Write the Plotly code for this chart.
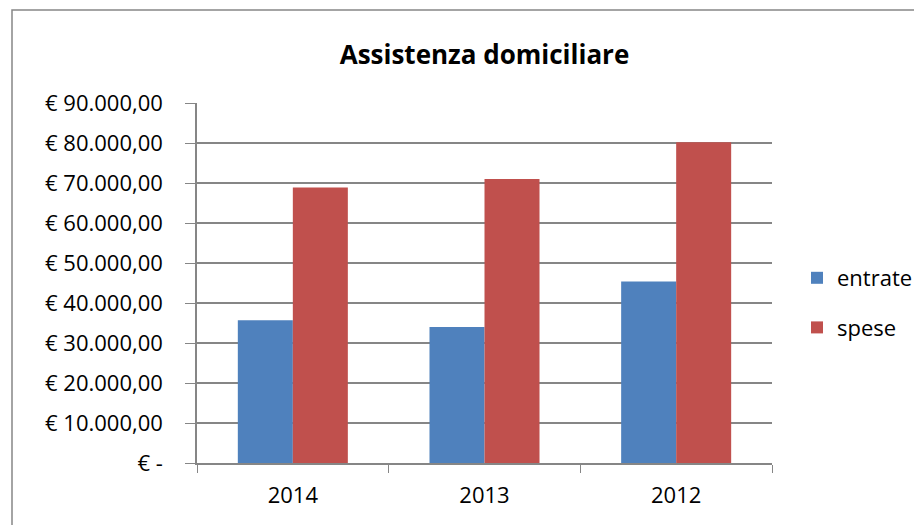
import plotly.graph_objects as go

categories = ["2014", "2013", "2012"]
entrate = [35700, 34000, 45400]
spese = [68900, 71000, 80200]
tick_values = [0, 10000, 20000, 30000, 40000, 50000, 60000, 70000, 80000, 90000]
tick_labels = ["€ -", "€ 10.000,00", "€ 20.000,00", "€ 30.000,00", "€ 40.000,00",
               "€ 50.000,00", "€ 60.000,00", "€ 70.000,00", "€ 80.000,00", "€ 90.000,00"]

FONT = "'Open Sans', sans-serif"
OFF = 8  # default page body margin
W, H = 922 - OFF, 525 - OFF
L, T = 197 - OFF, 103 - OFF
R = W - (772 - OFF)
B = H - (463 - OFF)
pw, ph = W - L - R, H - T - B


def px_x(p):
    return (p - OFF - L) / pw


def px_y(p):
    return (H - B - (p - OFF)) / ph


fig = go.Figure()
fig.add_trace(go.Bar(x=categories, y=entrate, name="entrate", legendgroup="a",
                     marker=dict(color="#4F81BD", line=dict(width=0))))
fig.add_trace(go.Bar(x=categories, y=spese, name="spese", legendgroup="b",
                     marker=dict(color="#C0504D", line=dict(width=0))))

fig.update_layout(
    width=W, height=H,
    margin=dict(l=L, r=R, t=T, b=B, autoexpand=False),
    paper_bgcolor="white", plot_bgcolor="white",
    font=dict(family=FONT, size=22, color="black"),
    barmode="group", bargap=0.426, bargroupgap=0,
    title=dict(text="<b>Assistenza domiciliare</b>", x=0.5, xref="paper", xanchor="center",
               y=(H - (55 - OFF)) / H, yanchor="middle", font=dict(size=26, family=FONT)),
    xaxis=dict(showgrid=False, showline=True, linecolor="#868686", linewidth=1.5,
               ticks="outside", tickson="boundaries", ticklen=8, tickcolor="#868686",
               tickfont=dict(size=22), ticklabelstandoff=12, fixedrange=True),
    yaxis=dict(range=[0, 90000], tickvals=tick_values, ticktext=tick_labels,
               showgrid=True, gridcolor="#868686", gridwidth=1.5,
               showline=True, linecolor="#868686", linewidth=1.5,
               ticks="outside", ticklen=10, tickcolor="#868686",
               tickfont=dict(size=22), ticklabelstandoff=18,
               zeroline=False, fixedrange=True),
    legend=dict(x=px_x(797), y=px_y(257), xanchor="left", yanchor="top",
                font=dict(size=22), traceorder="grouped", tracegroupgap=18),
    showlegend=True,
)

fig.add_shape(type="rect", xref="paper", yref="paper",
              x0=px_x(12), x1=px_x(960), y0=px_y(560), y1=px_y(10),
              line=dict(color="#868686", width=1.5), fillcolor="rgba(0,0,0,0)", layer="below")

fig.write_html("out.html")
